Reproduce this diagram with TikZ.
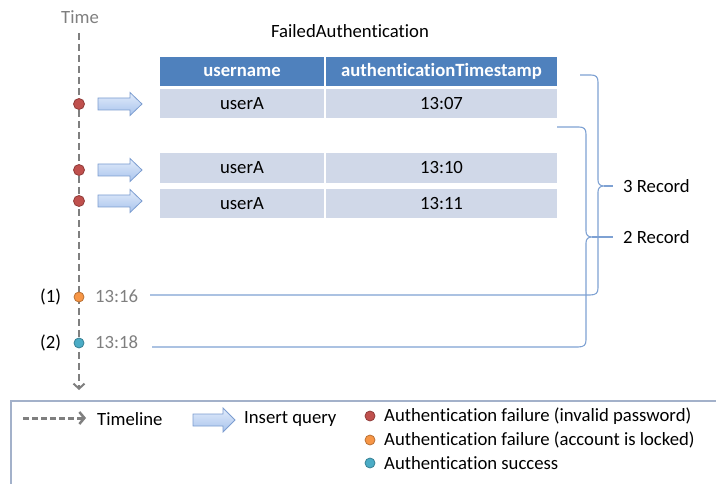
\documentclass[tikz,border=0pt]{standalone}
\usepackage{fontspec}
\setmainfont{Carlito}[Ligatures=NoCommon]
\usetikzlibrary{arrows.meta}
\definecolor{hdr}{HTML}{4F81BD}
\definecolor{rowc}{HTML}{D0D8E8}
\definecolor{tgray}{HTML}{7F7F7F}
\definecolor{brc}{HTML}{7EA1D3}
\definecolor{redd}{HTML}{C0504D}
\definecolor{orad}{HTML}{F79646}
\definecolor{teald}{HTML}{4BACC6}
\definecolor{legc}{HTML}{A3B1CA}
\definecolor{arrtop}{HTML}{E2ECFB}
\definecolor{arrbot}{HTML}{A8C3EC}
\definecolor{arrbd}{HTML}{7C9DD0}
\begin{document}
\begin{tikzpicture}[x=1pt,y=-1pt,
  font=\fontsize{18.7}{22}\selectfont,
  hcell/.style={fill=hdr, text=white, font=\fontsize{18.7}{22}\selectfont\bfseries, inner sep=0, minimum height=29},
  cell/.style={fill=rowc, inner sep=0, minimum height=29},
  dot/.style={circle, inner sep=0, minimum size=11, line width=0.8},
  timeline/.style={draw=tgray, line width=2.8, dash pattern=on 7pt off 4pt, -{Straight Barb[length=5pt,width=11pt,line width=2pt]}},
  blockarr/.style={draw=arrbd, line width=0.8, top color=arrtop, bottom color=arrbot},
  bracel/.style={draw=brc, line width=1.1},
  lbl/.style={inner sep=0, anchor=west}
]
\useasboundingbox (0,0) rectangle (716,484);

% title and time axis
\node (title) at (350,31) {FailedAuthentication};
\node[text=tgray] (time) at (80,17) {Time};
\coordinate (tstart) at (79,33);
\coordinate (tend) at (79,390);
\draw[timeline] (tstart) -- (tend);

% table
\node[hcell, minimum width=164] (h1) at (242,71.5) {username};
\node[hcell, minimum width=231] (h2) at (441.5,71.5) {authenticationTimestamp};
\node[cell, minimum width=164] (r1a) at (242,103.5) {userA};
\node[cell, minimum width=231] (r1b) at (441.5,103.5) {13:07};
\node[cell, minimum width=164, minimum height=30] (r2a) at (242,168) {userA};
\node[cell, minimum width=231, minimum height=30] (r2b) at (441.5,168) {13:10};
\node[cell, minimum width=164] (r3a) at (242,203.5) {userA};
\node[cell, minimum width=231] (r3b) at (441.5,203.5) {13:11};

% event dots
\node[dot, fill=redd, draw=redd!75!black] (d1) at (79,104) {};
\node[dot, fill=redd, draw=redd!75!black] (d2) at (79,170) {};
\node[dot, fill=redd, draw=redd!75!black] (d3) at (79,201) {};
\node[dot, fill=orad, draw=orad!75!black, minimum size=10] (d4) at (79,297) {};
\node[dot, fill=teald, draw=teald!75!black, minimum size=10] (d5) at (79,343) {};

% insert arrows
\foreach \yy in {104,170,201}{
  \draw[blockarr, shift={(98,\yy)}] (0,-6) -- (32,-6) -- (32,-11.5) -- (44,0) -- (32,11.5) -- (32,6) -- (0,6) -- cycle;
}

% labels at 13:16 / 13:18
\node[lbl] (n1) at (40,297) {(1)};
\node[lbl] (n2) at (40,343) {(2)};
\node[lbl, text=tgray] (t1) at (95,296) {13:16};
\node[lbl, text=tgray] (t2) at (95,342) {13:18};

% braces
\coordinate (b1s) at (580,75);
\coordinate (l1s) at (150,295);
\coordinate (b1tip) at (613,186);
\draw[bracel] (b1s) -- (591,75) .. controls (596,75) and (598,77) .. (598,82)
   -- (598,180) .. controls (598,184) and (600,186) .. (604,186)
   .. controls (600,186) and (598,188) .. (598,192)
   -- (598,288) .. controls (598,293) and (596,295) .. (590,295) -- (l1s);
\draw[bracel] (604,186) -- (b1tip);
\coordinate (b2s) at (557,127);
\coordinate (l2s) at (152,347);
\coordinate (b2tip) at (613,237);
\draw[bracel] (b2s) -- (579,127) .. controls (584,127) and (586,129) .. (586,134)
   -- (586,231) .. controls (586,235) and (588,237) .. (592,237)
   .. controls (588,237) and (586,239) .. (586,243)
   -- (586,340) .. controls (586,345) and (584,347) .. (578,347) -- (l2s);
\draw[bracel] (592,237) -- (b2tip);
\node[lbl] (rec3) at (623,186) {3 Record};
\node[lbl] (rec2) at (623,237) {2 Record};

% legend
\draw[draw=legc, line width=1.5] (11,484) -- (11,401) -- (716,401);
\coordinate (lg1) at (23,418);
\coordinate (lg2) at (86,418);
\draw[draw=tgray, line width=3, dash pattern=on 6pt off 3pt, -{Straight Barb[length=5pt,width=12pt,line width=2.5pt]}] (lg1) -- (lg2);
\node[lbl] (ltl) at (97,419) {Timeline};
\draw[blockarr, shift={(193,420)}] (0,-6) -- (30,-6) -- (30,-12) -- (42,0) -- (30,12) -- (30,6) -- (0,6) -- cycle;
\node[lbl] (liq) at (244,419) {Insert query};
\node[dot, fill=redd, draw=redd!75!black, minimum size=10] (ld1) at (370,416) {};
\node[dot, fill=orad, draw=orad!75!black, minimum size=10] (ld2) at (370,440) {};
\node[dot, fill=teald, draw=teald!75!black, minimum size=10] (ld3) at (370,463) {};
\node[lbl] (lt1) at (384,416) {Authentication failure (invalid password)};
\node[lbl] (lt2) at (384,440) {Authentication failure (account is locked)};
\node[lbl] (lt3) at (384,463) {Authentication success};
\end{tikzpicture}
\end{document}
